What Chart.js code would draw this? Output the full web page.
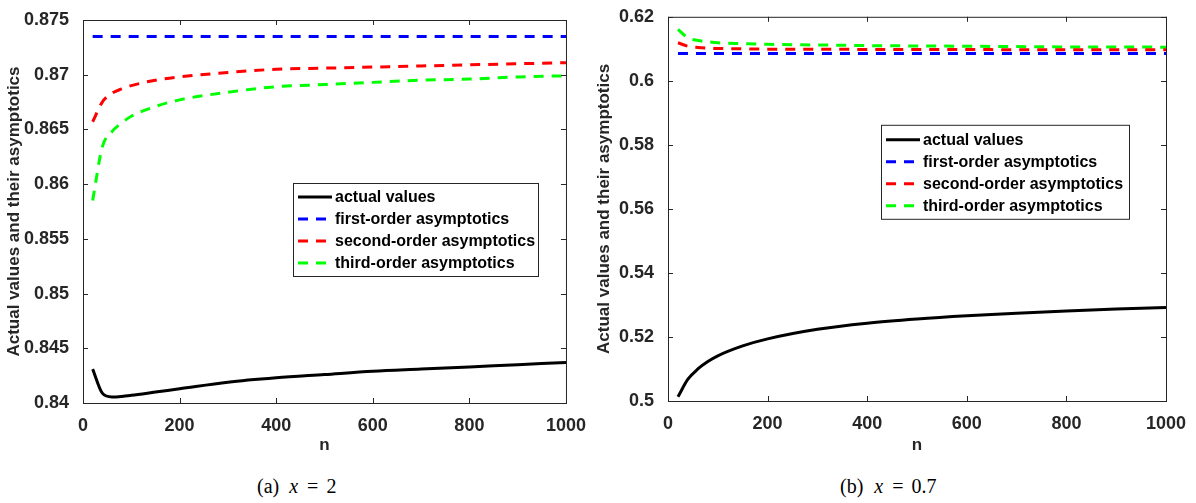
<!DOCTYPE html>
<html>
<head>
<meta charset="utf-8">
<script src="https://cdn.jsdelivr.net/npm/chart.js@4.4.1/dist/chart.umd.min.js"></script>
<style>
  html, body { margin: 0; padding: 0; background: #fff; }
  body { width: 1196px; height: 503px; position: relative; overflow: hidden; }
  .box { position: absolute; top: 0; height: 460px; }
  .cap { position: absolute; top: 475px; font-family: "Liberation Serif", "DejaVu Serif", serif; font-size: 20px; color: #000; white-space: pre; }
  .cap span { display: inline-block; }
</style>
</head>
<body>
<div class="box" style="left:0;width:590px"><canvas id="chartA"></canvas></div>
<div class="box" style="left:590px;width:606px"><canvas id="chartB"></canvas></div>
<div class="cap" style="left:257px"><span>(a)</span><span style="margin-left:10px"><i>x</i></span><span style="margin-left:9px">=</span><span style="margin-left:8px">2</span></div>
<div class="cap" style="left:840px"><span>(b)</span><span style="margin-left:11px"><i>x</i></span><span style="margin-left:9px">=</span><span style="margin-left:8px">0.7</span></div>
<script>
// n 값 (공통)
const nValues = [20, 40, 60, 80, 100, 150, 200, 300, 400, 500, 600, 700, 800, 900, 1000];
const seriesNames = ["actual values", "first-order asymptotics", "second-order asymptotics", "third-order asymptotics"];
const xTicks = [0, 200, 400, 600, 800, 1000];

// (a) x = 2
const actualA = [0.8431, 0.8409, 0.84055, 0.8406, 0.8407, 0.8410, 0.8413, 0.8419, 0.8423, 0.8426, 0.8429, 0.8431, 0.8433, 0.8435, 0.8437];
const firstA = [0.8735, 0.8735, 0.8735, 0.8735, 0.8735, 0.8735, 0.8735, 0.8735, 0.8735, 0.8735, 0.8735, 0.8735, 0.8735, 0.8735, 0.8735];
const secondA = [0.8657, 0.8675, 0.8683, 0.8687, 0.8690, 0.8695, 0.8698, 0.8702, 0.8705, 0.8706, 0.8707, 0.8708, 0.8709, 0.8710, 0.8711];
const thirdA = [0.8585, 0.8634, 0.8648, 0.8656, 0.8662, 0.8671, 0.8677, 0.8684, 0.8689, 0.8691, 0.8693, 0.8695, 0.8696, 0.8698, 0.8699];
const yTicksA = [0.84, 0.845, 0.85, 0.855, 0.86, 0.865, 0.87, 0.875];

// (b) x = 0.7
const actualB = [0.5013, 0.5068, 0.5100, 0.5123, 0.5141, 0.5172, 0.5194, 0.5224, 0.5243, 0.5256, 0.5266, 0.5274, 0.5281, 0.5287, 0.5292];
const firstB = [0.6085, 0.6085, 0.6085, 0.6085, 0.6085, 0.6085, 0.6085, 0.6085, 0.6085, 0.6085, 0.6085, 0.6085, 0.6085, 0.6085, 0.6085];
const secondB = [0.6119, 0.6108, 0.6104, 0.6102, 0.6101, 0.6100, 0.6099, 0.6099, 0.6098, 0.6098, 0.6098, 0.6097, 0.6097, 0.6097, 0.6097];
const thirdB = [0.6161, 0.6134, 0.6126, 0.6122, 0.6119, 0.6116, 0.6114, 0.6112, 0.6110, 0.6109, 0.6108, 0.6107, 0.6106, 0.6106, 0.6105];
const yTicksB = [0.5, 0.52, 0.54, 0.56, 0.58, 0.6, 0.62];

const AXIS_COLOR = "#262626";
const FONT = "'Liberation Sans', Arial, sans-serif";

// 축 테두리 + 안쪽 눈금 (MATLAB 스타일)
const framePlugin = {
  id: "frame",
  afterDraw(chart) {
    const { ctx, chartArea: a, scales } = chart;
    ctx.save();
    ctx.strokeStyle = AXIS_COLOR;
    ctx.lineWidth = 1;
    ctx.strokeRect(a.left + 0.5, a.top + 0.5, a.right - a.left, a.bottom - a.top);
    const len = 5;
    ctx.beginPath();
    scales.x.ticks.forEach((t) => {
      const px = Math.round(scales.x.getPixelForValue(t.value)) + 0.5;
      ctx.moveTo(px, a.bottom); ctx.lineTo(px, a.bottom - len);
      ctx.moveTo(px, a.top); ctx.lineTo(px, a.top + len);
    });
    scales.y.ticks.forEach((t) => {
      const py = Math.round(scales.y.getPixelForValue(t.value)) + 0.5;
      ctx.moveTo(a.left, py); ctx.lineTo(a.left + len, py);
      ctx.moveTo(a.right, py); ctx.lineTo(a.right - len, py);
    });
    ctx.stroke();
    ctx.restore();
  },
};

// 플롯 안쪽 범례 상자
const boxLegendPlugin = {
  id: "boxLegend",
  afterDraw(chart, args, opts) {
    const { ctx, chartArea: a } = chart;
    const x0 = a.left + opts.left, y0 = a.top + opts.top;
    ctx.save();
    ctx.fillStyle = "#fff";
    ctx.fillRect(x0, y0, opts.width, opts.height);
    ctx.strokeStyle = AXIS_COLOR;
    ctx.lineWidth = 1;
    ctx.strokeRect(x0 + 0.5, y0 + 0.5, opts.width, opts.height);
    chart.data.datasets.forEach((ds, i) => {
      const y = y0 + opts.firstRow + i * opts.rowH;
      ctx.strokeStyle = ds.borderColor;
      ctx.lineWidth = 3;
      ctx.setLineDash(ds.borderDash || []);
      ctx.beginPath();
      ctx.moveTo(x0 + 5, y);
      ctx.lineTo(x0 + 39, y);
      ctx.stroke();
      ctx.setLineDash([]);
      ctx.fillStyle = "#000";
      ctx.font = "bold 16px " + FONT;
      ctx.textBaseline = "middle";
      ctx.fillText(ds.label, x0 + 42, y + 1);
    });
    ctx.restore();
  },
};

const makeDatasets = (actual, first, second, third) => {
  const colors = ["#000000", "#0000ff", "#ff0000", "#00ff00"];
  return [actual, first, second, third].map((vals, i) => ({
    label: seriesNames[i],
    data: nValues.map((n, j) => ({ x: n, y: vals[j] })),
    borderColor: colors[i],
    borderWidth: 3,
    borderDash: i === 0 ? [] : [10, 8],
    pointRadius: 0,
    cubicInterpolationMode: "monotone",
    fill: false,
  }));
};

const makeChart = (id, datasets, yTicks, cfg) => {
  const ctx = document.getElementById(id).getContext("2d");
  return new Chart(ctx, {
    type: "line",
    data: { datasets },
    plugins: [framePlugin, boxLegendPlugin],
    options: {
      responsive: true,
      maintainAspectRatio: false,
      animation: false,
      layout: { padding: { top: cfg.top, right: cfg.right, left: 0, bottom: 0 } },
      scales: {
        x: {
          type: "linear",
          min: 0,
          max: 1000,
          afterBuildTicks: (s) => { s.ticks = xTicks.map((v) => ({ value: v })); },
          afterFit: (s) => { s.height = cfg.xHeight; },
          grid: { display: false },
          border: { display: false },
          ticks: { color: AXIS_COLOR, font: { family: FONT, size: 18, weight: "bold" }, padding: 4, maxRotation: 0, callback: (v) => String(v) },
          title: { display: true, text: "n", color: AXIS_COLOR, font: { family: FONT, size: 17, weight: "bold" }, padding: { top: 1 } },
        },
        y: {
          type: "linear",
          min: yTicks[0],
          max: yTicks[yTicks.length - 1],
          afterBuildTicks: (s) => { s.ticks = yTicks.map((v) => ({ value: v })); },
          afterFit: (s) => { s.width = cfg.yWidth; },
          grid: { display: false },
          border: { display: false },
          ticks: { color: AXIS_COLOR, font: { family: FONT, size: 18, weight: "bold" }, padding: 6, callback: (v) => String(+v.toFixed(3)) },
          title: { display: true, text: "Actual values and their asymptotics", color: AXIS_COLOR, font: { family: FONT, size: 17, weight: "bold" }, padding: { bottom: 0 } },
        },
      },
      plugins: {
        legend: { display: false },
        tooltip: { enabled: false },
        boxLegend: cfg.legend,
      },
    },
  });
};

makeChart("chartA", makeDatasets(actualA, firstA, secondA, thirdA), yTicksA, {
  top: 20, right: 17, xHeight: 57, yWidth: 83,
  legend: { left: 210, top: 163, width: 245, height: 93, firstRow: 14, rowH: 22 },
});

makeChart("chartB", makeDatasets(actualB, firstB, secondB, thirdB), yTicksB, {
  top: 11, right: 30, xHeight: 59, yWidth: 78,
  legend: { left: 213, top: 108, width: 248, height: 94, firstRow: 15, rowH: 22 },
});
</script>
</body>
</html>
